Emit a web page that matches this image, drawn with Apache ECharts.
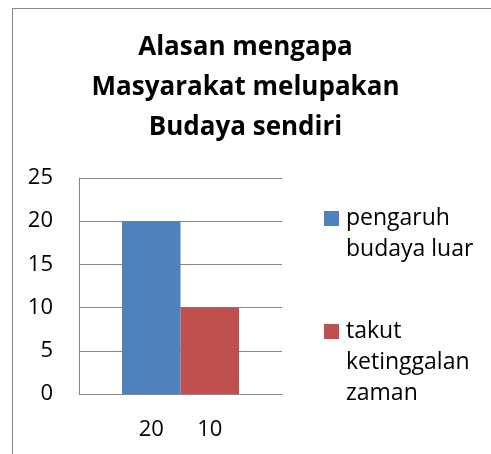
<!DOCTYPE html>
<html>
<head>
<meta charset="utf-8">
<script src="https://cdn.jsdelivr.net/npm/echarts@6/dist/echarts.min.js"></script>
<style>
html,body{margin:0;padding:0;background:#fff;}
#c{width:491px;height:454px;}
</style>
</head>
<body>
<div id="c"></div>
<script>
const titleText = 'Alasan mengapa\nMasyarakat melupakan\nBudaya sendiri';
const categories = ['20', '10'];
const seriesNames = ['pengaruh budaya luar', 'takut ketinggalan zaman'];
const legendLines = [['pengaruh', 'budaya luar'], ['takut', 'ketinggalan', 'zaman']];
const pengaruhValues = [20, null];
const takutValues = [null, 10];
const yMin = 0, yMax = 25, yStep = 5;
const colors = ['#4F81BD', '#C0504D'];

const FONT = 'Open Sans';
const GRAY = '#868686';

const chart = echarts.init(document.getElementById('c'), null, {renderer: 'canvas'});

const rich = {
  g: {width: 15, height: 15},
  t: {fontSize: 23, fontFamily: FONT, color: '#000', padding: [0, 0, 0, 7], lineHeight: 31}
};
colors.forEach((c, i) => { rich['s' + i] = {width: 15, height: 15, backgroundColor: c}; });

const option = {
  animation: false,
  color: colors,
  graphic: [{
    type: 'rect', left: 10, top: 6,
    shape: {width: 700, height: 700},
    style: {fill: 'none', stroke: GRAY, lineWidth: 1}
  }],
  title: {
    text: titleText,
    left: 'center',
    top: 28,
    padding: [0, 0, 0, 14],
    textStyle: {fontFamily: FONT, fontWeight: 'bold', fontSize: 26, lineHeight: 40, color: '#000'}
  },
  legend: {
    orient: 'vertical',
    left: 314,
    top: 198,
    itemGap: 51,
    itemWidth: 0,
    itemHeight: 0,
    icon: 'rect',
    selectedMode: false,
    data: seriesNames,
    formatter: function (name) {
      const i = seriesNames.indexOf(name);
      return legendLines[i].map((l, k) => (k === 0 ? '{s' + i + '|}' : '{g|}') + '{t|' + l + '}').join('\n');
    },
    textStyle: {rich: rich, fontSize: 23, fontFamily: FONT, lineHeight: 31}
  },
  grid: [
    {left: 79, top: 178, width: 203, height: 216, containLabel: false},
    {left: 122, top: 178, width: 117, height: 216, containLabel: false}
  ],
  xAxis: [
    {
      gridIndex: 0, type: 'category', data: categories,
      axisLine: {show: true, lineStyle: {color: GRAY, width: 1}},
      axisTick: {show: false}, axisLabel: {show: false}, splitLine: {show: false}
    },
    {
      gridIndex: 1, type: 'category', data: categories,
      axisLine: {show: false}, axisTick: {show: false},
      axisLabel: {show: true, fontFamily: FONT, fontSize: 22, color: '#000', margin: 25}
    }
  ],
  yAxis: [
    {
      gridIndex: 0, type: 'value', min: yMin, max: yMax, interval: yStep,
      axisLine: {show: true, lineStyle: {color: GRAY, width: 1}},
      axisTick: {show: false},
      axisLabel: {fontFamily: FONT, fontSize: 22, color: '#000', margin: 26},
      splitLine: {show: true, lineStyle: {color: GRAY, width: 1}}
    },
    {
      gridIndex: 1, type: 'value', min: yMin, max: yMax, interval: yStep, show: false,
      splitLine: {show: false}
    }
  ],
  series: [
    {
      name: seriesNames[0], type: 'bar', xAxisIndex: 1, yAxisIndex: 1,
      stack: 'all', data: pengaruhValues, barWidth: '100%',
      itemStyle: {color: colors[0]}
    },
    {
      name: seriesNames[1], type: 'bar', xAxisIndex: 1, yAxisIndex: 1,
      stack: 'all', data: takutValues, barWidth: '100%',
      itemStyle: {color: colors[1]}
    }
  ]
};
chart.setOption(option);
</script>
</body>
</html>
